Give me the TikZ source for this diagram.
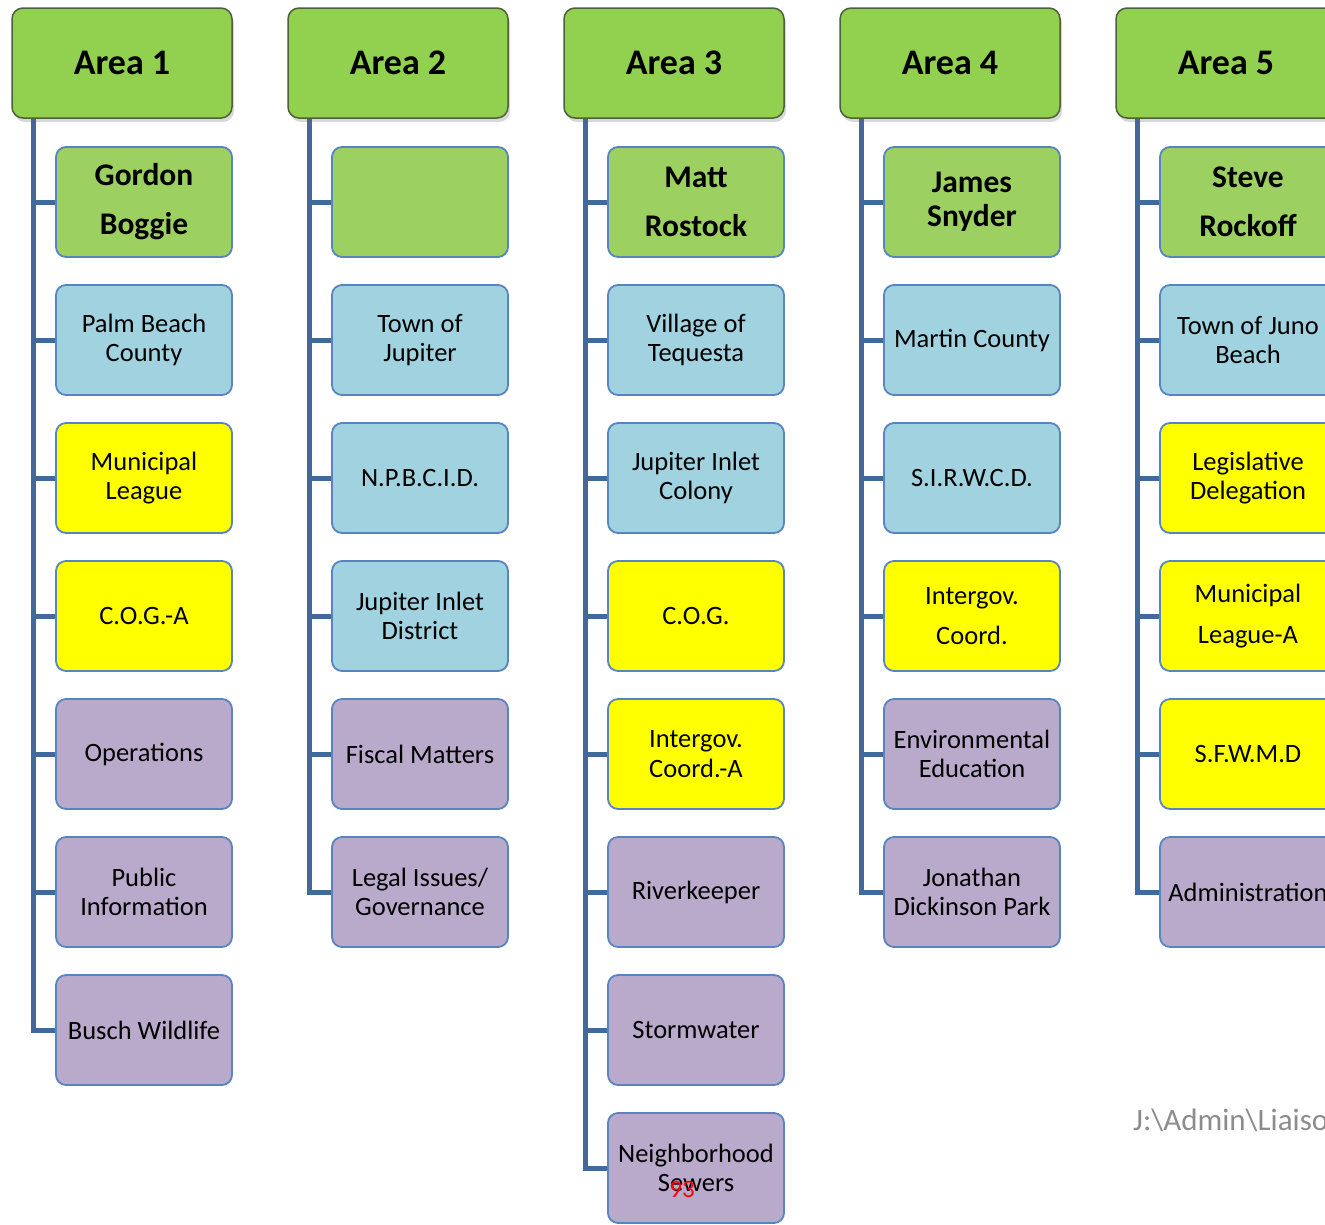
\documentclass[tikz,border=0pt]{standalone}
\usepackage{fontspec}
\setmainfont{Carlito}
\usetikzlibrary{positioning,shadows}
\def\dx{276}
\def\dy{138}
\definecolor{hdrgreen}{RGB}{146,208,80}
\definecolor{hdrline}{RGB}{78,96,58}
\definecolor{namegreen}{RGB}{156,209,98}
\definecolor{orgblue}{RGB}{160,210,224}
\definecolor{counyellow}{RGB}{255,255,0}
\definecolor{topicpurple}{RGB}{185,170,204}
\definecolor{boxline}{RGB}{88,132,192}
\definecolor{linkblue}{RGB}{65,105,155}
\tikzstyle{areabox}=[draw=hdrline,line width=1.5pt,fill=hdrgreen,rounded corners=11pt,
  minimum width=220pt,minimum height=110pt,inner sep=0pt,
  font=\fontsize{36}{42}\selectfont\bfseries,
  drop shadow={shadow xshift=2pt,shadow yshift=-4pt,opacity=.3}]
\tikzstyle{itembox}=[draw=boxline,line width=1.8pt,rounded corners=10pt,
  minimum width=176pt,minimum height=110pt,inner sep=0pt,align=center,
  font=\fontsize{26.5}{29.5}\selectfont]
\tikzstyle{namebox}=[itembox,fill=namegreen,font=\fontsize{31.5}{34}\selectfont\bfseries]
\tikzstyle{orgbox}=[itembox,fill=orgblue]
\tikzstyle{counbox}=[itembox,fill=counyellow]
\tikzstyle{topicbox}=[itembox,fill=topicpurple]
\tikzstyle{linkline}=[draw=linkblue,line width=5pt]
\newcommand{\newArea}[3]{\node[areabox](#1) at ({122+#2*\dx},63) {#3};
  \coordinate (#1t) at ([xshift=22pt]#1.south west);}
\newcommand{\newItem}[5]{\node[#3](#1) at ({144+#4*\dx},{202+#5*\dy}) {#2};}
\newcommand{\newLink}[2]{\draw[linkline] (#1t) |- (#2.west);}

\begin{document}
\begin{tikzpicture}[x=1pt,y=-1pt]
  \clip (0,0) rectangle (1325,1224);
  \fill[white] (0,0) rectangle (1325,1224);
  % Area 1
  \newArea{a1}{0}{Area 1}
  \newItem{a1n}{Gordon\\[15pt]Boggie}{namebox}{0}{0}
  \newItem{a1o}{Palm Beach\\County}{orgbox}{0}{1}
  \newItem{a1c}{Municipal\\League}{counbox}{0}{2}
  \newItem{a1g}{C.O.G.-A}{counbox}{0}{3}
  \newItem{a1p}{Operations}{topicbox}{0}{4}
  \newItem{a1i}{Public\\Information}{topicbox}{0}{5}
  \newItem{a1w}{Busch Wildlife}{topicbox}{0}{6}
  % Area 2
  \newArea{a2}{1}{Area 2}
  \newItem{a2n}{}{namebox}{1}{0}
  \newItem{a2o}{Town of\\Jupiter}{orgbox}{1}{1}
  \newItem{a2d}{N.P.B.C.I.D.}{orgbox}{1}{2}
  \newItem{a2j}{Jupiter Inlet\\District}{orgbox}{1}{3}
  \newItem{a2f}{Fiscal Matters}{topicbox}{1}{4}
  \newItem{a2l}{Legal Issues/\\Governance}{topicbox}{1}{5}
  % Area 3
  \newArea{a3}{2}{Area 3}
  \newItem{a3n}{Matt\\[15pt]Rostock}{namebox}{2}{0}
  \newItem{a3o}{Village of\\Tequesta}{orgbox}{2}{1}
  \newItem{a3j}{Jupiter Inlet\\Colony}{orgbox}{2}{2}
  \newItem{a3g}{C.O.G.}{counbox}{2}{3}
  \newItem{a3c}{Intergov.\\Coord.-A}{counbox}{2}{4}
  \newItem{a3r}{Riverkeeper}{topicbox}{2}{5}
  \newItem{a3s}{Stormwater}{topicbox}{2}{6}
  \newItem{a3w}{Neighborhood\\Sewers}{topicbox}{2}{7}
  % Area 4
  \newArea{a4}{3}{Area 4}
  \newItem{a4n}{James\\Snyder}{namebox}{3}{0}
  \newItem{a4o}{Martin County}{orgbox}{3}{1}
  \newItem{a4d}{S.I.R.W.C.D.}{orgbox}{3}{2}
  \newItem{a4c}{Intergov.\\[11pt]Coord.}{counbox}{3}{3}
  \newItem{a4e}{Environmental\\Education}{topicbox}{3}{4}
  \newItem{a4p}{Jonathan\\Dickinson Park}{topicbox}{3}{5}
  % Area 5
  \newArea{a5}{4}{Area 5}
  \newItem{a5n}{Steve\\[15pt]Rockoff}{namebox}{4}{0}
  \newItem{a5o}{Town of Juno\\Beach}{orgbox}{4}{1}
  \newItem{a5l}{Legislative\\Delegation}{counbox}{4}{2}
  \newItem{a5m}{Municipal\\[11pt]League-A}{counbox}{4}{3}
  \newItem{a5s}{S.F.W.M.D}{counbox}{4}{4}
  \newItem{a5a}{Administration}{topicbox}{4}{5}
  % links
  \foreach \i in {a1n,a1o,a1c,a1g,a1p,a1i,a1w} {\newLink{a1}{\i}}
  \foreach \i in {a2n,a2o,a2d,a2j,a2f,a2l} {\newLink{a2}{\i}}
  \foreach \i in {a3n,a3o,a3j,a3g,a3c,a3r,a3s,a3w} {\newLink{a3}{\i}}
  \foreach \i in {a4n,a4o,a4d,a4c,a4e,a4p} {\newLink{a4}{\i}}
  \foreach \i in {a5n,a5o,a5l,a5m,a5s,a5a} {\newLink{a5}{\i}}
  % footer
  \node[anchor=base west,inner sep=0pt,text=gray!90,font=\fontsize{31}{36}\selectfont] (path) at (1133,1130) {J:\textbackslash Admin\textbackslash Liaison};
  \node[anchor=base,inner sep=0pt,text=red,font=\fontsize{25}{28}\selectfont] (page) at (682,1197) {93};
\end{tikzpicture}
\end{document}
